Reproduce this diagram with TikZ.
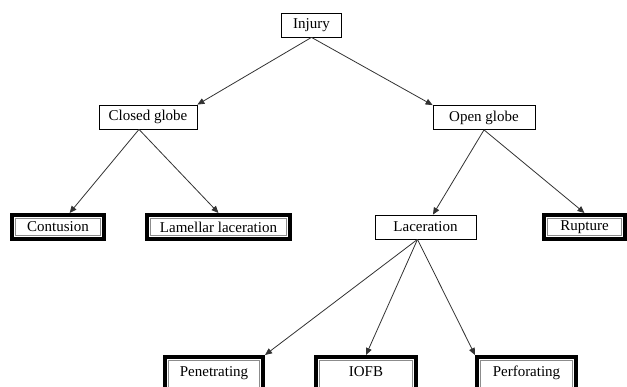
\documentclass[tikz,border=0pt]{standalone}
\usepackage{fontspec}
\setmainfont{Liberation Serif}
\usepackage{xcolor}
\usetikzlibrary{arrows.meta, positioning, calc}
\definecolor{edgegray}{RGB}{50, 50, 50}
\definecolor{innergray}{RGB}{140, 140, 140}

\begin{document}
\begin{tikzpicture}[
    x=1pt, y=-1pt,
    plainBox/.style={draw=black, line width=0.8pt, fill=white, inner sep=0pt, minimum height=24pt, font=\fontsize{15}{18}\selectfont},
    leafBox/.style={draw=black, line width=4pt, fill=white, inner sep=0pt, minimum height=24pt, font=\fontsize{15}{18}\selectfont,
        path picture={\draw[innergray, line width=1.2pt] ([shift={(3.7pt,-3.7pt)}]path picture bounding box.north west) rectangle ([shift={(-3.7pt,3.7pt)}]path picture bounding box.south east);}},
    treeEdge/.style={draw=edgegray, line width=0.8pt, -{Triangle[length=7pt, width=6pt]}}
]
\useasboundingbox (0,0) rectangle (627,387);
\clip (0,0) rectangle (627,387);

% Level 0
\node[plainBox, minimum width=60pt] (inj) at (311.5, 25) {Injury};

% Level 1
\node[plainBox, minimum width=98pt] (cg) at (148, 117) {Closed globe};
\node[plainBox, minimum width=102pt] (og) at (484, 117.5) {Open globe};

% Level 2
\node[leafBox, minimum width=92pt] (cont) at (58, 227) {Contusion};
\node[leafBox, minimum width=143pt] (lam) at (218.5, 227) {Lamellar laceration};
\node[plainBox, minimum width=101pt] (lac) at (425.5, 227) {Laceration};
\node[leafBox, minimum width=81pt] (rup) at (584.5, 227) {Rupture};

% Level 3 (cut off at the bottom)
\node[leafBox, minimum width=98pt, minimum height=36pt, text depth=7pt] (pen) at (214, 375) {Penetrating};
\node[leafBox, minimum width=100pt, minimum height=36pt, text depth=7pt] (iofb) at (366, 375) {IOFB};
\node[leafBox, minimum width=99pt, minimum height=36pt, text depth=7pt] (perf) at (526.5, 375) {Perforating};

% Edges
\draw[treeEdge] (inj.south) -- (cg.north east);
\draw[treeEdge] (inj.south) -- (og.north west);
\draw[treeEdge] ([xshift=-9pt]cg.south) -- (cont);
\draw[treeEdge] ([xshift=-9pt]cg.south) -- (lam.north);
\draw[treeEdge] (og.south) -- (lac);
\draw[treeEdge] (og.south) -- (rup.north);
\draw[treeEdge] ([xshift=-8pt]lac.south) -- (pen.north east);
\draw[treeEdge] ([xshift=-8pt]lac.south) -- (iofb.north);
\draw[treeEdge] ([xshift=-8pt]lac.south) -- (perf.north west);

\end{tikzpicture}
\end{document}
